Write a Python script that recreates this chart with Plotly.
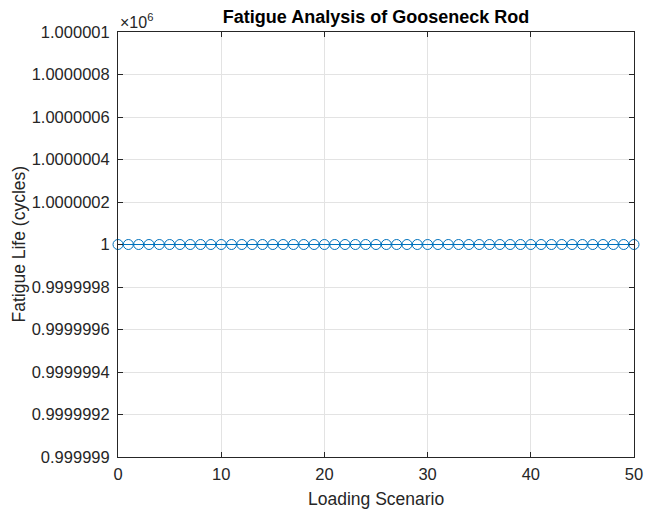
import plotly.graph_objects as go

scenarios = list(range(0, 51))
fatigue_life = [1000000] * 51

y_tick_vals = [0.999999, 0.9999992, 0.9999994, 0.9999996, 0.9999998, 1.0,
               1.0000002, 1.0000004, 1.0000006, 1.0000008, 1.000001]
y_tick_text = ["0.999999", "0.9999992", "0.9999994", "0.9999996", "0.9999998", "1",
               "1.0000002", "1.0000004", "1.0000006", "1.0000008", "1.000001"]
x_tick_vals = [0, 10, 20, 30, 40, 50]

scale = 1e6
FONT = "Liberation Sans, Arial, sans-serif"
AX = "#262626"
TICK = 16.5

fig = go.Figure()
fig.add_trace(go.Scatter(
    x=scenarios,
    y=[v / scale for v in fatigue_life],
    mode="lines+markers",
    line=dict(color="#0072BD", width=1),
    marker=dict(symbol="circle-open", size=10, color="#0072BD", line=dict(width=1, color="#0072BD")),
    cliponaxis=False,
    showlegend=False,
))

fig.update_layout(
    width=646, height=512,
    margin=dict(l=118, r=12, t=32, b=55),
    paper_bgcolor="white", plot_bgcolor="white",
    font=dict(family=FONT, color=AX, size=TICK),
    title=dict(text="<b>Fatigue Analysis of Gooseneck Rod</b>", x=0.5, xref="paper",
               xanchor="center", y=1, yref="container", yanchor="top", pad=dict(t=10),
               font=dict(size=18, color="black", family=FONT)),
    xaxis=dict(range=[0, 50], tickvals=x_tick_vals, ticks="inside", ticklen=5, tickcolor=AX,
               showline=True, linecolor=AX, linewidth=1, mirror="ticks", automargin=False,
               showgrid=True, gridcolor="#e3e3e3", gridwidth=1, zeroline=False,
               tickfont=dict(size=TICK, color=AX), ticklabelstandoff=2),
    yaxis=dict(range=[0.999999, 1.000001], tickvals=y_tick_vals, ticktext=y_tick_text,
               ticks="inside", ticklen=5, tickcolor=AX, automargin=False,
               showline=True, linecolor=AX, linewidth=1, mirror="ticks",
               showgrid=True, gridcolor="#e3e3e3", gridwidth=1, zeroline=False,
               tickfont=dict(size=TICK, color=AX), ticklabelstandoff=4),
    annotations=[
        dict(text="×10<sup>6</sup>", xref="paper", yref="paper", x=0, y=1,
             xanchor="left", yanchor="bottom", showarrow=False, yshift=-1, xshift=0,
             font=dict(size=16, color=AX, family=FONT)),
        dict(text="Fatigue Life (cycles)", xref="paper", yref="paper", x=-118 / 516, xshift=18, y=0.5,
             xanchor="center", yanchor="middle", textangle=-90, showarrow=False,
             font=dict(size=17.5, color=AX, family=FONT)),
        dict(text="Loading Scenario", xref="paper", yref="paper", x=0.5, y=0, yshift=-42,
             xanchor="center", yanchor="middle", showarrow=False,
             font=dict(size=17.5, color=AX, family=FONT)),
    ],
)

fig.write_html("out.html", config={"displayModeBar": False},
               post_script="document.body.style.margin='0';")
